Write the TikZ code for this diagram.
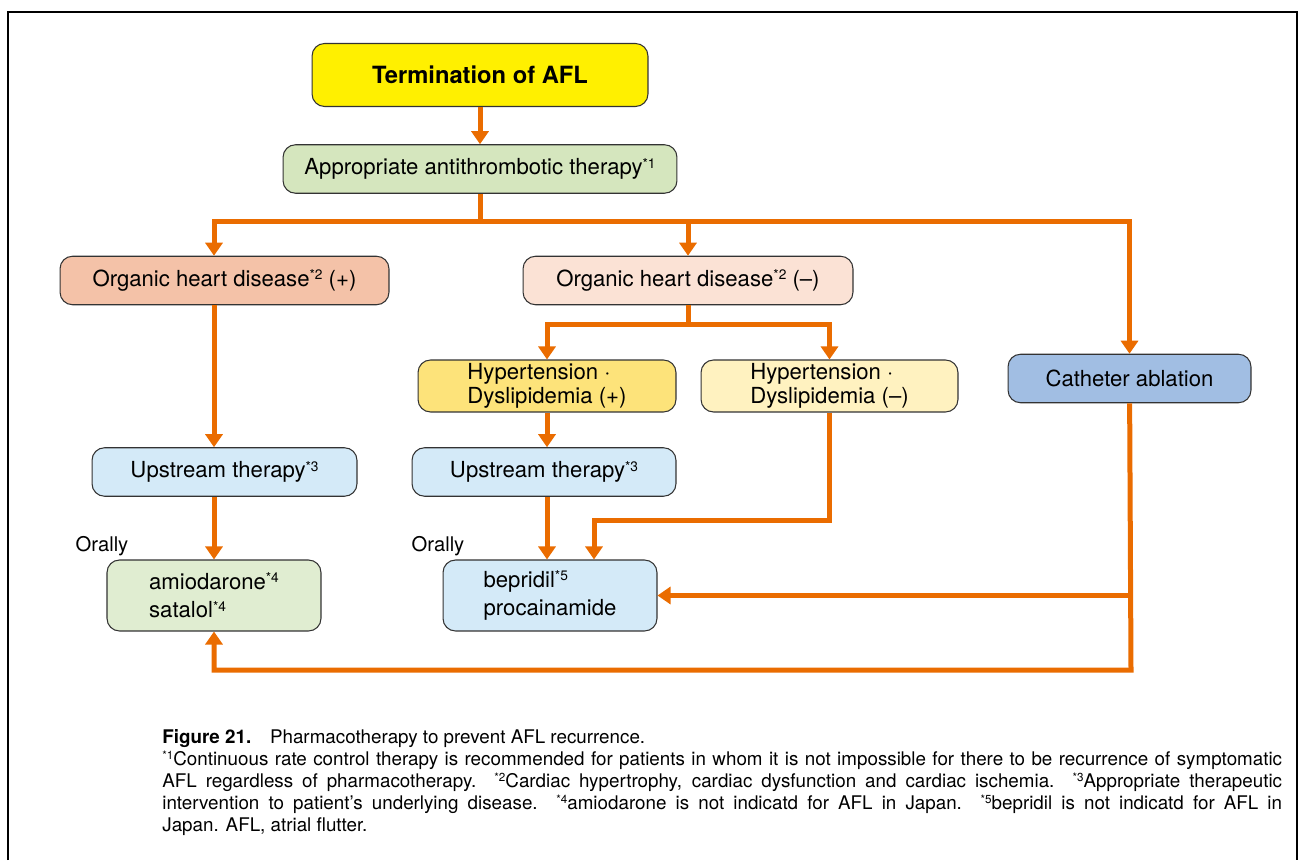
\documentclass[tikz,border=0pt]{standalone}
\usepackage{fontspec}
\setmainfont{TeX Gyre Heros}
\usetikzlibrary{arrows.meta, positioning, calc}

\definecolor{flowor}{RGB}{234,108,0}
\definecolor{termyel}{RGB}{255,240,0}
\definecolor{antigrn}{RGB}{213,230,190}
\definecolor{orgpos}{RGB}{244,194,168}
\definecolor{orgneg}{RGB}{251,226,213}
\definecolor{hyppos}{RGB}{253,227,122}
\definecolor{hypneg}{RGB}{255,242,192}
\definecolor{cathblu}{RGB}{161,190,227}
\definecolor{upblu}{RGB}{212,234,248}
\definecolor{drugrn}{RGB}{224,237,209}

% small raised footnote marks
\newcommand{\fnref}[1]{\raisebox{0.3em}{\scalebox{0.62}{#1}}}

\begin{document}
\begin{tikzpicture}[
  x=0.02cm, y=-0.02cm,
  font=\fontsize{12.6}{14}\selectfont,
  box/.style={
    draw=black!80, line width=0.6pt, rounded corners=0.25cm,
    align=center, inner sep=0pt, minimum height=0.97cm
  },
  flow/.style={
    -{Triangle[length=0.26cm, width=0.34cm]},
    line width=0.1cm, draw=flowor
  },
  lbl/.style={font=\fontsize{11.5}{13}\selectfont},
  capnode/.style={
    font=\fontsize{10.7}{12.5}\selectfont, align=justify,
    text width=22.4cm, inner sep=0pt
  }
]
  % frame
  \draw[line width=1.2pt] (8,860) -- (8,12) -- (1297,12) -- (1297,860);

  \node[box, fill=termyel, minimum width=6.72cm, minimum height=1.26cm, font=\fontsize{13.5}{15}\selectfont\bfseries] (term) at (480,75) {Termination of AFL};
  \node[box, fill=antigrn, minimum width=7.88cm] (anti) at (480,169) {Appropriate antithrombotic therapy\fnref{*1}};

  \node[box, fill=orgpos, minimum width=6.58cm] (orgp) at (224.5,280.5) {Organic heart disease\fnref{*2} (+)};
  \node[box, fill=orgneg, minimum width=6.6cm] (orgm) at (688,280.5) {Organic heart disease\fnref{*2} (--)};

  \node[box, fill=hyppos, minimum width=5.16cm, minimum height=1.04cm, align=left] (hypp) at (547,386) {Hypertension ·\\Dyslipidemia (+)};
  \node[box, fill=hypneg, minimum width=5.14cm, minimum height=1.04cm, align=left] (hypm) at (829.5,386) {Hypertension ·\\Dyslipidemia (--)};
  \node[box, fill=cathblu, minimum width=4.86cm] (cath) at (1129.5,378.5) {Catheter ablation};

  \node[box, fill=upblu, minimum width=5.3cm] (upl) at (224.5,472) {Upstream therapy\fnref{*3}};
  \node[box, fill=upblu, minimum width=5.28cm] (upm) at (544,472) {Upstream therapy\fnref{*3}};

  \node[box, fill=drugrn, minimum width=4.28cm, minimum height=1.42cm, align=left] (amio) at (214,595.5) {amiodarone\fnref{*4}\\[2pt]satalol\fnref{*4}};
  \node[box, fill=upblu, minimum width=4.28cm, minimum height=1.42cm, align=left] (bep) at (550,595.5) {bepridil\fnref{*5}\\[2pt]procainamide};

  \node[lbl] (oral1) at (102,546) {Orally};
  \node[lbl] (oral2) at (438,546) {Orally};

  % connectors
  \coordinate (split) at (480,222);
  \coordinate (split2) at (688,325);
  \coordinate (jn) at (594,520);
  \coordinate (cbot) at (1131,670);

  \draw[flow] (term) -- (anti);
  \draw[flow] (anti) -- (split) -| (orgp.north -| amio);
  \draw[flow] (split) -| (orgm);
  \draw[flow] (split) -| (cath);

  \draw[flow] (orgm) -- (split2) -| (hypp);
  \draw[flow] (split2) -| (hypm);

  \draw[flow] (orgp.south -| amio) -- (upl.north -| amio);
  \draw[flow] (upl.south -| amio) -- (amio);

  \draw[flow] (hypp) -- (upm.north -| hypp);
  \draw[flow] (upm.south -| hypp) -- (bep.north -| hypp);
  \draw[flow] (hypm.south) |- (jn) -- (jn |- bep.north);

  \draw[flow] (cath) -- (cbot) -| (amio.south);
  \draw[flow] (cath.south |- bep.east) -- (bep.east);

  \node[capnode, anchor=north west] (cap) at (162,729) {%
    \textbf{Figure 21.}\quad Pharmacotherapy to prevent AFL recurrence.\\
    \fnref{*1}Continuous rate control therapy is recommended for patients in whom it is not impossible for there to be recurrence of symptomatic\linebreak
    AFL regardless of pharmacotherapy. \fnref{*2}Cardiac hypertrophy, cardiac dysfunction and cardiac ischemia. \fnref{*3}Appropriate therapeutic\linebreak
    intervention to patient’s underlying disease. \fnref{*4}amiodarone is not indicatd for AFL in Japan. \fnref{*5}bepridil is not indicatd for AFL in\linebreak
    Japan. AFL, atrial flutter.};

  \useasboundingbox (0,0) rectangle (1301,860);
\end{tikzpicture}
\end{document}
